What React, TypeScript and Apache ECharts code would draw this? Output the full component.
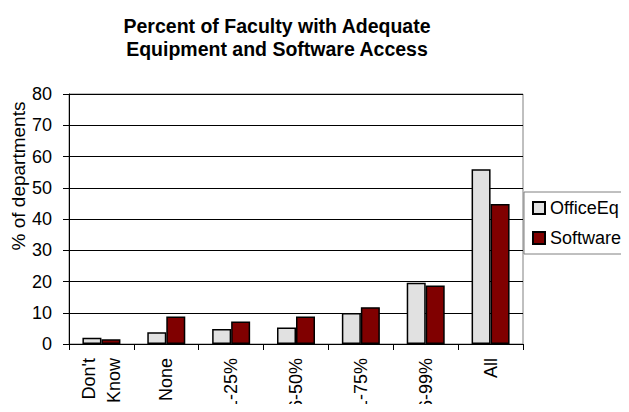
import React, { useEffect, useRef } from "react";
import * as echarts from "echarts";

const categories = ["Don't\nKnow", "None", "1-25%", "26-50%", "51-75%", "76-99%", "All"];
const officeEq = [2.0, 3.8, 4.8, 5.3, 9.9, 19.6, 55.9];
const software = [1.5, 8.8, 7.2, 8.8, 11.8, 18.7, 44.8];
const seriesNames = ["OfficeEq", "Software"];
const titleText = "Percent of Faculty with Adequate\nEquipment and Software Access";
const yAxisTitle = "% of departments";

const FONT = "'Liberation Sans', Arial, sans-serif";

export default function App() {
  const ref = useRef<HTMLDivElement>(null);
  useEffect(() => {
    if (!ref.current) return;
    const chart = echarts.init(ref.current, null, { renderer: "svg" });
    chart.setOption({
      animation: false,
      backgroundColor: "#ffffff",
      title: {
        text: titleText,
        left: 272,
        top: 9,
        textAlign: "center",
        textStyle: {
          fontFamily: FONT,
          fontSize: 19.5,
          fontWeight: "bold",
          lineHeight: 23,
          color: "#000",
        },
      },
      graphic: [
        {
          type: "text",
          x: 18,
          y: 176,
          rotation: Math.PI / 2,
          style: {
            text: yAxisTitle,
            fontFamily: FONT,
            fontSize: 19,
            fill: "#000",
            textAlign: "center",
            textVerticalAlign: "middle",
          },
        },
      ],
      legend: {
        orient: "vertical",
        left: 524,
        top: 192,
        padding: [7, 30, 7, 8],
        itemWidth: 12,
        itemHeight: 12,
        itemGap: 12,
        borderColor: "#808080",
        borderWidth: 1,
        backgroundColor: "#fff",
        icon: "rect",
        textStyle: { fontFamily: FONT, fontSize: 18, lineHeight: 18, color: "#000" },
        data: seriesNames,
      },
      grid: {
        left: 69,
        right: 106,
        top: 94,
        bottom: 68,
        show: true,
        borderColor: "#808080",
        borderWidth: 1,
        backgroundColor: "#fff",
        containLabel: false,
        outerBoundsMode: "none",
      },
      xAxis: {
        type: "category",
        data: categories,
        axisLine: { show: true, lineStyle: { color: "#000", width: 1 } },
        axisTick: { show: true, length: 6, lineStyle: { color: "#000" }, alignWithLabel: false },
        axisLabel: {
          interval: 0,
          rotate: 90,
          margin: 14,
          fontFamily: FONT,
          fontSize: 18,
          lineHeight: 25,
          color: "#000",
        },
      },
      yAxis: {
        type: "value",
        min: 0,
        max: 80,
        interval: 10,
        axisLine: { show: true, lineStyle: { color: "#000", width: 1 } },
        axisTick: { show: true, length: 6, lineStyle: { color: "#000" } },
        axisLabel: { margin: 17, fontFamily: FONT, fontSize: 18, color: "#000" },
        splitLine: { show: true, lineStyle: { color: "#000", width: 1 } },
      },
      series: [
        {
          name: seriesNames[0],
          type: "bar",
          data: officeEq,
          barWidth: 19,
          barGap: "0%",
          itemStyle: { color: "#e1e1e1", borderColor: "#000", borderWidth: 1.5 },
        },
        {
          name: seriesNames[1],
          type: "bar",
          data: software,
          barWidth: 19,
          barGap: "0%",
          itemStyle: { color: "#800000", borderColor: "#000", borderWidth: 1.5 },
        },
      ],
    });
    return () => chart.dispose();
  }, []);
  return <div ref={ref} style={{ width: 629, height: 412, margin: -8 }} />;
}
